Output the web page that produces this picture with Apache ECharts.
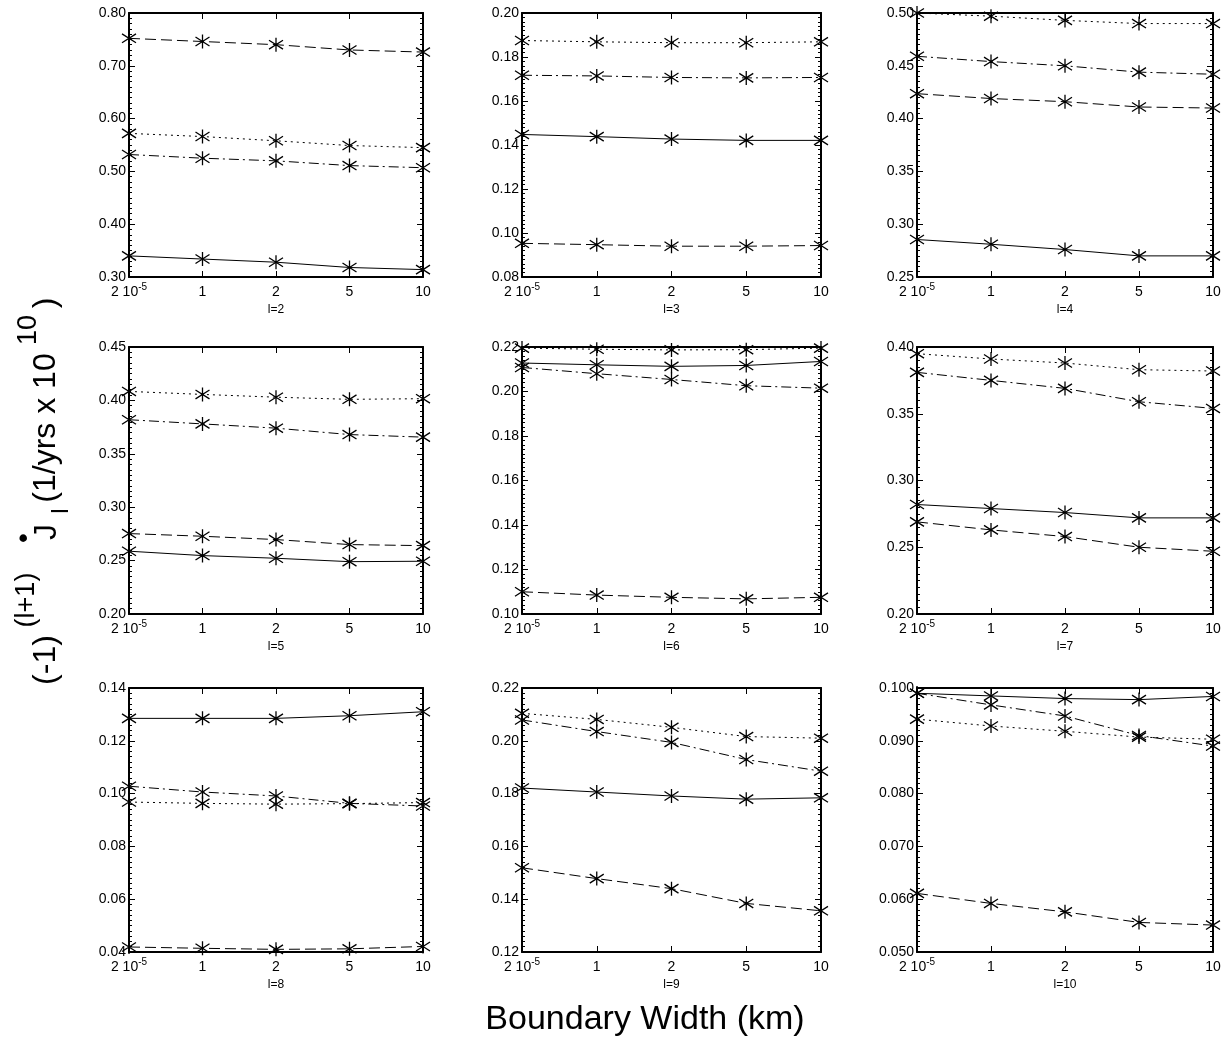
<!DOCTYPE html>
<html>
<head>
<meta charset="utf-8">
<script src="https://cdn.jsdelivr.net/npm/echarts@6/dist/echarts.min.js"></script>
<style>
html,body{margin:0;padding:0;background:#fff;}
#chart{width:1225px;height:1040px;}
</style>
</head>
<body>
<div id="chart"></div>
<script>
// ---- data ----
const categories = ['2 10^-5', '1', '2', '5', '10'];
const panelTitles = ['l=2', 'l=3', 'l=4', 'l=5', 'l=6', 'l=7', 'l=8', 'l=9', 'l=10'];

const yMin  = [0.30, 0.08, 0.25, 0.20, 0.10, 0.20, 0.04, 0.12, 0.050];
const yMax  = [0.80, 0.20, 0.50, 0.45, 0.22, 0.40, 0.14, 0.22, 0.100];
const yStep = [0.10, 0.02, 0.05, 0.05, 0.02, 0.05, 0.02, 0.02, 0.010];
const yDecimals = [2, 2, 2, 2, 2, 2, 2, 2, 3];

const solidValues = [
  [0.340, 0.334, 0.328, 0.318, 0.314],
  [0.1448, 0.1438, 0.1427, 0.1421, 0.1421],
  [0.2855, 0.281, 0.276, 0.270, 0.270],
  [0.2588, 0.2547, 0.2522, 0.249, 0.2494],
  [0.2128, 0.2120, 0.2113, 0.2117, 0.2135],
  [0.282, 0.279, 0.276, 0.272, 0.272],
  [0.1285, 0.1285, 0.1285, 0.1295, 0.1310],
  [0.1821, 0.1806, 0.1791, 0.1779, 0.1784],
  [0.0990, 0.0985, 0.0980, 0.0978, 0.0984]
];
const dashedValues = [
  [0.752, 0.746, 0.740, 0.730, 0.726],
  [0.0953, 0.0947, 0.0940, 0.0940, 0.0943],
  [0.4236, 0.419, 0.416, 0.411, 0.410],
  [0.2753, 0.2728, 0.2697, 0.265, 0.2640],
  [0.1100, 0.1085, 0.1075, 0.1068, 0.1075],
  [0.269, 0.263, 0.258, 0.250, 0.247],
  [0.0419, 0.0414, 0.0410, 0.0412, 0.0421],
  [0.1519, 0.1478, 0.1440, 0.1384, 0.1356],
  [0.0611, 0.0592, 0.0576, 0.0556, 0.0551]
];
const dottedValues = [
  [0.572, 0.566, 0.558, 0.549, 0.545],
  [0.1875, 0.1869, 0.1865, 0.1865, 0.1869],
  [0.500, 0.497, 0.493, 0.490, 0.490],
  [0.4084, 0.4056, 0.403, 0.4010, 0.4016],
  [0.2195, 0.2190, 0.2187, 0.2188, 0.2195],
  [0.395, 0.391, 0.388, 0.383, 0.382],
  [0.0968, 0.0963, 0.0960, 0.0962, 0.0966],
  [0.2104, 0.2081, 0.2051, 0.2016, 0.2010],
  [0.0941, 0.0928, 0.0918, 0.0907, 0.0903]
];
const dashDotValues = [
  [0.532, 0.525, 0.520, 0.511, 0.507],
  [0.1717, 0.1714, 0.1707, 0.1705, 0.1707],
  [0.459, 0.454, 0.450, 0.444, 0.442],
  [0.3819, 0.378, 0.374, 0.368, 0.3656],
  [0.2108, 0.2080, 0.2054, 0.2026, 0.2015],
  [0.381, 0.375, 0.369, 0.359, 0.354],
  [0.1028, 0.1006, 0.0991, 0.0963, 0.0953],
  [0.2079, 0.2035, 0.1994, 0.1929, 0.1885],
  [0.0990, 0.0968, 0.0947, 0.0910, 0.0890]
];

// ---- layout ----
const colLeft = [129, 522, 917];
const colWidth = [294, 299, 296];
const rowTop = [13, 347, 688];
const rowHeight = [264, 267, 264];

const FONT = '"Liberation Sans", Arial, Helvetica, sans-serif';
const asterisk = 'path://M5,0L5,10M0,1.8L10,8.2M0,8.2L10,1.8';

const styleDefs = [
  { values: solidValues, type: 'solid' },
  { values: dashedValues, type: [11, 5] },
  { values: dottedValues, type: [2, 4] },
  { values: dashDotValues, type: [10, 4, 2, 4] }
];

const grid = [], xAxis = [], yAxis = [], series = [];
for (let p = 0; p < 9; p++) {
  const r = Math.floor(p / 3), c = p % 3;
  grid.push({ left: colLeft[c], top: rowTop[r], width: colWidth[c], height: rowHeight[r], containLabel: false });
  const axisLine = { show: true, onZero: false, lineStyle: { color: '#000', width: 2 } };
  xAxis.push({
    type: 'category', gridIndex: p, data: categories, boundaryGap: false, position: 'bottom',
    axisLine, axisTick: { inside: true, length: 6, lineStyle: { color: '#000', width: 1 } },
    axisLabel: {
      color: '#000', fontFamily: FONT, fontSize: 14, margin: 7, interval: 0,
      formatter: v => v === '2 10^-5' ? '{a|2 10}{s|-5}' : '{a|' + v + '}',
      rich: {
        a: { fontFamily: FONT, fontSize: 14, color: '#000', lineHeight: 16 },
        s: { fontFamily: FONT, fontSize: 10, color: '#000', lineHeight: 16, padding: [0, 0, 9, 0] }
      }
    },
    name: panelTitles[p], nameLocation: 'middle', nameGap: 27,
    nameTextStyle: { color: '#000', fontFamily: FONT, fontSize: 12 },
    splitLine: { show: false }
  });
  xAxis.push({
    type: 'category', gridIndex: p, data: categories, boundaryGap: false, position: 'top',
    axisLine, axisTick: { inside: true, length: 6, lineStyle: { color: '#000', width: 1 } },
    axisLabel: { show: false }, splitLine: { show: false }
  });
  const yCommon = {
    type: 'value', gridIndex: p, min: yMin[p], max: yMax[p], interval: yStep[p],
    axisLine, axisTick: { show: true, inside: true, length: 6, lineStyle: { color: '#000', width: 1 } },
    minorTick: { show: true, splitNumber: 10, length: 3, lineStyle: { color: '#000', width: 1 } },
    splitLine: { show: false }, minorSplitLine: { show: false }
  };
  const dec = yDecimals[p];
  yAxis.push(Object.assign({}, yCommon, {
    position: 'left',
    axisLabel: { color: '#000', fontFamily: FONT, fontSize: 14, margin: 3, formatter: v => v.toFixed(dec) }
  }));
  yAxis.push(Object.assign({}, yCommon, { position: 'right', axisLabel: { show: false } }));

  styleDefs.forEach(sd => {
    series.push({
      type: 'line', xAxisIndex: 2 * p, yAxisIndex: 2 * p, data: sd.values[p],
      symbol: asterisk, symbolSize: 14, showAllSymbol: true, clip: true,
      lineStyle: { color: '#000', width: 1, type: sd.type },
      itemStyle: { color: '#000', borderColor: '#000', borderWidth: 1.3 },
      emphasis: { disabled: true }, animation: false, silent: true
    });
  });
}

const rot = Math.PI / 2;
function vtext(text, x, y, size) {
  return { type: 'text', x, y, rotation: rot, silent: true,
    style: { text, font: size + 'px ' + FONT, fill: '#000', align: 'center', verticalAlign: 'middle' } };
}
const graphic = [
  vtext('(-1)', 46, 660, 32),
  vtext('(l+1)', 27, 600, 27),
  vtext('J', 47, 532, 32),
  vtext('\u2022', 24, 538, 28),
  vtext('l', 61, 511, 24),
  vtext('(1/yrs x 10', 46, 428, 32),
  vtext('10', 29, 330, 27),
  vtext(')', 46, 303, 32),
  { type: 'text', x: 645, y: 1020, silent: true,
    style: { text: 'Boundary Width (km)', font: '34px ' + FONT, fill: '#000', align: 'center', verticalAlign: 'middle' } }
];

const chart = echarts.init(document.getElementById('chart'), null, { renderer: 'canvas' });
chart.setOption({ animation: false, backgroundColor: '#fff', grid, xAxis, yAxis, series, graphic });
</script>
</body>
</html>
